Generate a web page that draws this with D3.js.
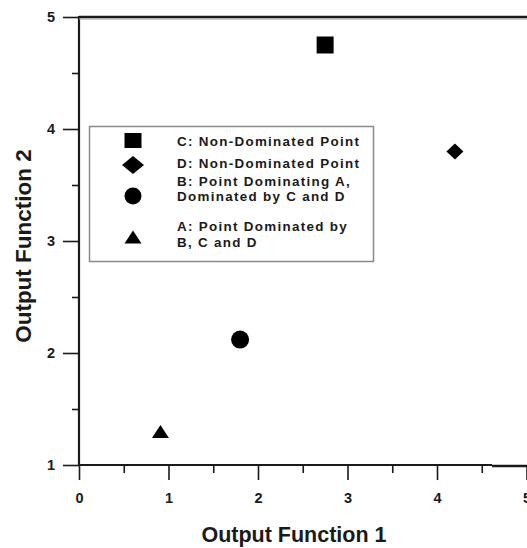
<!DOCTYPE html>
<html>
<head>
<meta charset="utf-8">
<script src="https://cdn.jsdelivr.net/npm/d3@7"></script>
<style>
  html, body { margin: 0; padding: 0; background: #ffffff; }
  svg text { font-family: "Liberation Sans", Arial, sans-serif; font-weight: bold; fill: #1a1a1a; }
</style>
</head>
<body>
<svg id="chart" width="527" height="548"></svg>
<script>
// Points in objective space
const pointNames = ["C", "D", "B", "A"];
const outputF1 = [2.75, 4.2, 1.8, 0.91];
const outputF2 = [4.75, 3.8, 2.12, 1.3];
const pointShapes = ["square", "diamond", "circle", "triangle"];

// Legend entries (one per point, possibly two lines)
const legendText = [
  ["C: Non-Dominated Point"],
  ["D: Non-Dominated Point"],
  ["B: Point Dominating A,", "Dominated by C and D"],
  ["A: Point Dominated by", "B, C and D"]
];

// Axis ticks
const xMajorTicks = [0, 1, 2, 3, 4, 5];
const xMinorTicks = [0.5, 1.5, 2.5, 3.5, 4.5];
const yMajorTicks = [1, 2, 3, 4, 5];
const yMinorTicks = [1.5, 2.5, 3.5, 4.5];

const svg = d3.select("#chart");
const x = d3.scaleLinear().domain([0, 5]).range([79, 526.5]);
const y = d3.scaleLinear().domain([1, 5]).range([465, 17]);

const ink = "#1a1a1a";

// Minor ticks
svg.append("g")
  .attr("transform", `translate(0,${y(1)})`)
  .call(d3.axisBottom(x).tickValues(xMinorTicks).tickSize(8).tickFormat(""))
  .call(g => g.select(".domain").remove())
  .call(g => g.selectAll("line").attr("stroke", ink).attr("stroke-width", 1.6));
svg.append("g")
  .attr("transform", `translate(${x(0)},0)`)
  .call(d3.axisLeft(y).tickValues(yMinorTicks).tickSize(7).tickFormat(""))
  .call(g => g.select(".domain").remove())
  .call(g => g.selectAll("line").attr("stroke", ink).attr("stroke-width", 1.6));

// Major ticks with labels
svg.append("g")
  .attr("transform", `translate(0,${y(1)})`)
  .call(d3.axisBottom(x).tickValues(xMajorTicks).tickSize(15).tickPadding(13).tickFormat(d3.format("d")))
  .call(g => g.select(".domain").remove())
  .call(g => g.selectAll("line").attr("stroke", ink).attr("stroke-width", 1.6))
  .call(g => g.selectAll("text").attr("font-size", 14.5).attr("fill", ink));
svg.append("g")
  .attr("transform", `translate(${x(0)},0)`)
  .call(d3.axisLeft(y).tickValues(yMajorTicks).tickSize(16).tickPadding(8).tickFormat(d3.format("d")))
  .call(g => g.select(".domain").remove())
  .call(g => g.selectAll("line").attr("stroke", ink).attr("stroke-width", 1.6))
  .call(g => g.selectAll("text").attr("font-size", 14.5).attr("fill", ink));

// Frame: left, bottom and top edges
svg.append("line").attr("x1", x(0)).attr("x2", x(0)).attr("y1", y(5) - 1).attr("y2", y(1))
  .attr("stroke", ink).attr("stroke-width", 2.2);
svg.append("line").attr("x1", x(0)).attr("x2", 492).attr("y1", y(1)).attr("y2", y(1))
  .attr("stroke", ink).attr("stroke-width", 2);
svg.append("line").attr("x1", 492).attr("x2", 527).attr("y1", y(1) + 1).attr("y2", y(1) + 1)
  .attr("stroke", ink).attr("stroke-width", 2.6);
svg.append("line").attr("x1", x(0)).attr("x2", 527).attr("y1", y(5)).attr("y2", y(5))
  .attr("stroke", ink).attr("stroke-width", 2.6);
svg.append("line").attr("x1", x(0)).attr("x2", 527).attr("y1", y(5) + 2).attr("y2", y(5) + 2)
  .attr("stroke", "#9a9a9a").attr("stroke-width", 1);

// Marker shapes
function markerPath(shape, w, h) {
  const p = d3.path();
  if (shape === "square") {
    p.rect(-w / 2, -h / 2, w, h);
  } else if (shape === "diamond") {
    p.moveTo(0, -h / 2); p.lineTo(w / 2, 0); p.lineTo(0, h / 2); p.lineTo(-w / 2, 0); p.closePath();
  } else if (shape === "circle") {
    p.arc(0, 0, w / 2, 0, 2 * Math.PI);
  } else {
    p.moveTo(0, -h / 2); p.lineTo(w / 2, h / 2); p.lineTo(-w / 2, h / 2); p.closePath();
  }
  return p.toString();
}
const plotSizes = { square: [17, 17], diamond: [17, 16], circle: [18, 18], triangle: [17, 13] };
const legendSizes = { square: [17, 15], diamond: [22, 18], circle: [17, 17], triangle: [17, 13] };

// Data points
svg.append("g").selectAll("path")
  .data(pointNames.map((n, i) => ({ name: n, f1: outputF1[i], f2: outputF2[i], shape: pointShapes[i] })))
  .join("path")
  .attr("transform", d => `translate(${x(d.f1)},${y(d.f2)})`)
  .attr("d", d => markerPath(d.shape, ...plotSizes[d.shape]))
  .attr("fill", "#000");

// Legend
const legend = svg.append("g");
legend.append("rect")
  .attr("x", 89.5).attr("y", 126.5).attr("width", 284).attr("height", 135)
  .attr("fill", "#fff").attr("stroke", "#8a8a8a").attr("stroke-width", 1.5);
const symbolY = [140.5, 165, 196, 237];
const firstBaseline = [146, 168, 185.6, 231.4];
const lineStep = 15.2;
legendText.forEach((lines, i) => {
  legend.append("path")
    .attr("transform", `translate(133,${symbolY[i]})`)
    .attr("d", markerPath(pointShapes[i], ...legendSizes[pointShapes[i]]))
    .attr("fill", "#000");
  const label = legend.append("text")
    .attr("x", 177).attr("y", firstBaseline[i])
    .attr("font-size", 13.4).attr("letter-spacing", 1.3);
  lines.forEach((t, j) => {
    label.append("tspan")
      .attr("x", 177).attr("dy", j === 0 ? 0 : lineStep)
      .text(t);
  });
});

// Axis titles
svg.append("text")
  .attr("x", 294).attr("y", 542)
  .attr("text-anchor", "middle").attr("font-size", 21.5)
  .text("Output Function 1");
svg.append("text")
  .attr("transform", "translate(31,246) rotate(-90)")
  .attr("text-anchor", "middle").attr("font-size", 22.5)
  .text("Output Function 2");
</script>
</body>
</html>
